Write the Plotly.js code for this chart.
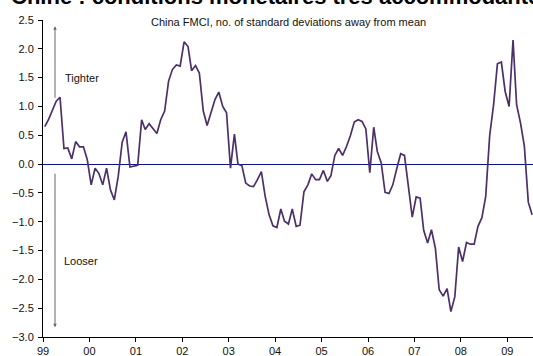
<!DOCTYPE html>
<html>
<head>
<meta charset="utf-8">
<script src="https://cdn.plot.ly/plotly-3.0.1.min.js"></script>
<style>
  html, body { margin: 0; padding: 0; background: #fff; }
  #chart { width: 533px; height: 356px; }
</style>
</head>
<body>
<div id="chart"></div>
<script>
// China FMCI, monthly, Jan 1999 - Jul 2009 (std deviations from mean)
const firstYear = 1999;
const fmci = [
  0.65, 0.78, 0.93, 1.09, 1.16, 0.27, 0.28, 0.09, 0.39, 0.30, 0.30, 0.08,
  -0.36, -0.07, -0.16, -0.36, -0.07, -0.45, -0.62, -0.21, 0.38, 0.56, -0.05, -0.03,
  -0.02, 0.77, 0.60, 0.70, 0.61, 0.53, 0.77, 0.92, 1.44, 1.64, 1.72, 1.70,
  2.12, 2.04, 1.62, 1.71, 1.58, 0.92, 0.67, 0.89, 1.12, 1.25, 1.00, 0.89,
  -0.07, 0.52, 0.00, -0.03, -0.33, -0.38, -0.39, -0.27, -0.13, -0.56, -0.88, -1.07,
  -1.10, -0.78, -0.99, -1.04, -0.78, -1.08, -1.06, -0.48, -0.36, -0.17, -0.27, -0.27,
  -0.11, -0.30, -0.20, 0.15, 0.27, 0.15, 0.30, 0.49, 0.73, 0.77, 0.74, 0.61,
  -0.15, 0.64, 0.22, 0.02, -0.49, -0.51, -0.36, -0.08, 0.18, 0.15, -0.39, -0.92,
  -0.57, -0.59, -1.15, -1.37, -1.14, -1.46, -2.18, -2.29, -2.16, -2.56, -2.30, -1.44,
  -1.69, -1.36, -1.39, -1.39, -1.08, -0.93, -0.56, 0.49, 1.03, 1.74, 1.77, 1.26,
  1.00, 2.15, 1.03, 0.71, 0.31, -0.66, -0.88
];
const yTicks = [2.5, 2.0, 1.5, 1.0, 0.5, 0.0, -0.5, -1.0, -1.5, -2.0, -2.5, -3.0];
const chartTitle = 'Chine : conditions monétaires très accommodantes';
const subTitle = 'China FMCI, no. of standard deviations away from mean';
const upLabel = 'Tighter';
const downLabel = 'Looser';

// one observation per month, placed mid-month
const months = fmci.map((_, i) => {
  const y = firstYear + Math.floor(i / 12);
  const m = (i % 12) + 1;
  return y + '-' + String(m).padStart(2, '0') + '-15';
});

const font = 'Liberation Sans, Arial, sans-serif';

const trace = {
  x: months,
  y: fmci,
  type: 'scatter',
  mode: 'lines',
  line: { color: '#4b3069', width: 1.7 },
  hoverinfo: 'x+y'
};

const layout = {
  width: 533,
  height: 356,
  margin: { l: 43, r: 0, t: 20, b: 19, pad: 0 },
  paper_bgcolor: '#fff',
  plot_bgcolor: '#fff',
  showlegend: false,
  font: { family: font, size: 11, color: '#111' },
  xaxis: {
    type: 'date',
    range: ['1999-01-01', '2009-07-22'],
    tick0: '1999-01-01',
    dtick: 'M12',
    tickformat: '%y',
    ticks: 'outside',
    ticklen: 4,
    tickcolor: '#000',
    showline: true,
    linecolor: '#000',
    linewidth: 1,
    showgrid: false,
    zeroline: false,
    tickfont: { family: font, size: 11, color: '#111' }
  },
  yaxis: {
    range: [-3, 2.5],
    tickvals: yTicks,
    tickformat: '.1f',
    ticks: 'outside',
    ticklen: 4,
    tickcolor: '#000',
    ticklabelstandoff: 2,
    showline: true,
    linecolor: '#000',
    linewidth: 1,
    showgrid: false,
    zeroline: true,
    zerolinecolor: '#0000ff',
    zerolinewidth: 1,
    tickfont: { family: font, size: 11, color: '#111' }
  },
  annotations: [
    {
      text: '<b>' + chartTitle + '</b>',
      xref: 'paper', yref: 'paper',
      x: -0.07, y: 1, xanchor: 'left', yanchor: 'bottom',
      yshift: 9,
      showarrow: false,
      font: { family: font, size: 22, color: '#000' }
    },
    {
      text: subTitle,
      xref: 'paper', yref: 'paper',
      x: 0.5, y: 0.995, xanchor: 'center', yanchor: 'middle',
      showarrow: false,
      font: { family: font, size: 11, color: '#111' }
    },
    {
      text: upLabel,
      xref: 'paper', yref: 'y',
      x: 0.04, y: 1.5, xanchor: 'left', yanchor: 'middle',
      showarrow: false,
      font: { family: font, size: 11, color: '#111' }
    },
    {
      text: downLabel,
      xref: 'paper', yref: 'y',
      x: 0.039, y: -1.68, xanchor: 'left', yanchor: 'middle',
      showarrow: false,
      font: { family: font, size: 11, color: '#111' }
    },
    {
      // upward arrow: tighter conditions
      text: '',
      xref: 'paper', yref: 'y',
      x: 0.0245, y: 2.39,
      showarrow: true, ax: 0, ay: 73,
      arrowhead: 2, arrowsize: 0.7, arrowwidth: 1, arrowcolor: '#666'
    },
    {
      // downward arrow: looser conditions
      text: '',
      xref: 'paper', yref: 'y',
      x: 0.0245, y: -2.83,
      showarrow: true, ax: 0, ay: -155,
      arrowhead: 2, arrowsize: 0.7, arrowwidth: 1, arrowcolor: '#666'
    }
  ]
};

Plotly.newPlot('chart', [trace], layout, { displayModeBar: false, staticPlot: true });
</script>
</body>
</html>
